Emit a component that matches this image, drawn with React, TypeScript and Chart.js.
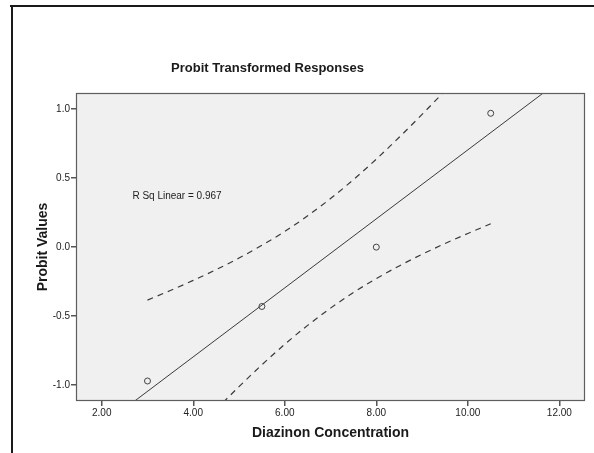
import React, { useEffect, useRef } from "react";
import { Chart, registerables } from "chart.js";

Chart.register(...registerables);

const chartTitle = "Probit Transformed Responses";
const xTitle = "Diazinon Concentration";
const yTitle = "Probit Values";
const rSqLabel = "R Sq Linear = 0.967";

const concentration = [3.0, 5.5, 8.0, 10.5];
const probit = [-0.97, -0.43, 0.0, 0.97];

const fitX = [1.44, 12.56];
const fitY = [-1.435, 1.345];

const bandX = [3.0, 3.5, 4.0, 4.5, 5.0, 5.5, 6.0, 6.5, 7.0, 7.5, 8.0, 8.5, 9.0, 9.5, 10.0, 10.5];
const upperBand = [-0.384, -0.314, -0.241, -0.163, -0.079, 0.013, 0.114, 0.227, 0.352, 0.489, 0.638, 0.796, 0.962, 1.134, 1.311, 1.491];
const lowerBand = [-1.706, -1.526, -1.349, -1.177, -1.011, -0.853, -0.704, -0.567, -0.442, -0.329, -0.228, -0.136, -0.052, 0.026, 0.099, 0.169];

const xTicks = [2, 4, 6, 8, 10, 12];
const yTicks = [-1.0, -0.5, 0.0, 0.5, 1.0];

const FONT = "'Liberation Sans', Arial, sans-serif";

const decorPlugin = {
  id: "decor",
  beforeDraw(chart: any) {
    const { ctx, chartArea } = chart;
    ctx.save();
    ctx.fillStyle = "#ffffff";
    ctx.fillRect(0, 0, chart.width, chart.height);
    ctx.fillStyle = "#f0f0f0";
    ctx.fillRect(chartArea.left, chartArea.top, chartArea.right - chartArea.left, chartArea.bottom - chartArea.top);
    // outer frame
    ctx.fillStyle = "#1a1a1a";
    ctx.fillRect(10, 5, chart.width - 10, 2);
    ctx.fillRect(11, 5, 2, chart.height - 5);
    // title
    ctx.fillStyle = "#1a1a1a";
    ctx.font = "bold 13px " + FONT;
    ctx.textAlign = "center";
    ctx.textBaseline = "middle";
    ctx.fillText(chartTitle, 267.5, 68);
    ctx.restore();
  },
  afterDraw(chart: any) {
    const { ctx, chartArea, scales } = chart;
    ctx.save();
    ctx.strokeStyle = "#5e5e5e";
    ctx.lineWidth = 1.2;
    ctx.strokeRect(chartArea.left + 0.5, chartArea.top + 0.5, chartArea.right - chartArea.left - 1, chartArea.bottom - chartArea.top - 1);
    ctx.fillStyle = "#222222";
    ctx.font = "10px " + FONT;
    ctx.textAlign = "left";
    ctx.textBaseline = "middle";
    const px = scales.x.getPixelForValue(2.67);
    const py = scales.y.getPixelForValue(0.37);
    ctx.fillText(rSqLabel, px, py);
    ctx.restore();
  },
};

export default function App() {
  const canvasRef = useRef<HTMLCanvasElement | null>(null);

  useEffect(() => {
    if (!canvasRef.current) return;
    const lineColor = "#3a3a3a";
    const chart = new Chart(canvasRef.current, {
      type: "scatter",
      data: {
        datasets: [
          {
            label: "Observed",
            data: concentration.map((x, i) => ({ x, y: probit[i] })),
            pointRadius: 3,
            pointBorderWidth: 1,
            pointBorderColor: "#444444",
            pointBackgroundColor: "rgba(0,0,0,0)",
            showLine: false,
          },
          {
            label: "Fit",
            data: fitX.map((x, i) => ({ x, y: fitY[i] })),
            showLine: true,
            pointRadius: 0,
            borderColor: lineColor,
            borderWidth: 1,
            fill: false,
          },
          {
            label: "Upper",
            data: bandX.map((x, i) => ({ x, y: upperBand[i] })),
            showLine: true,
            pointRadius: 0,
            borderColor: lineColor,
            borderWidth: 1.2,
            borderDash: [6, 5],
            cubicInterpolationMode: "monotone",
            fill: false,
          },
          {
            label: "Lower",
            data: bandX.map((x, i) => ({ x, y: lowerBand[i] })),
            showLine: true,
            pointRadius: 0,
            borderColor: lineColor,
            borderWidth: 1.2,
            borderDash: [6, 5],
            cubicInterpolationMode: "monotone",
            fill: false,
          },
        ],
      } as any,
      options: {
        responsive: false,
        animation: false,
        devicePixelRatio: 1,
        layout: { padding: { top: 93, right: 9, bottom: 0, left: 0 } },
        plugins: {
          legend: { display: false },
          tooltip: { enabled: false },
          title: { display: false },
        },
        scales: {
          x: {
            type: "linear",
            min: 1.438,
            max: 12.56,
            afterBuildTicks: (scale: any) => {
              scale.ticks = xTicks.map((v) => ({ value: v }));
            },
            afterFit: (scale: any) => {
              scale.height = 52;
            },
            grid: {
              drawOnChartArea: false,
              drawTicks: true,
              tickLength: 5,
              color: "#555555",
              lineWidth: 1.5,
            },
            border: { display: false },
            ticks: {
              padding: 1,
              color: "#222222",
              font: { family: FONT, size: 10 },
              maxRotation: 0,
              callback: (v: any) => Number(v).toFixed(2),
            },
            title: {
              display: true,
              text: xTitle,
              color: "#1a1a1a",
              font: { family: FONT, size: 14, weight: "bold" },
              padding: { top: 0, bottom: 11.8 },
            },
          },
          y: {
            type: "linear",
            min: -1.115,
            max: 1.117,
            afterBuildTicks: (scale: any) => {
              scale.ticks = yTicks.map((v) => ({ value: v }));
            },
            afterFit: (scale: any) => {
              scale.width = 76;
            },
            grid: {
              drawOnChartArea: false,
              drawTicks: true,
              tickLength: 5,
              color: "#555555",
              lineWidth: 1.5,
            },
            border: { display: false },
            ticks: {
              padding: 1,
              color: "#222222",
              font: { family: FONT, size: 10 },
              callback: (v: any) => Number(v).toFixed(1),
            },
            title: {
              display: true,
              text: yTitle,
              color: "#1a1a1a",
              font: { family: FONT, size: 14, weight: "bold" },
              padding: { top: 34.5, bottom: 0 },
            },
          },
        },
      } as any,
      plugins: [decorPlugin],
    });
    return () => chart.destroy();
  }, []);

  return (
    <div style={{ position: "absolute", left: 0, top: 0, width: 594, height: 453 }}>
      <canvas ref={canvasRef} width={594} height={453} style={{ width: 594, height: 453, display: "block" }} />
    </div>
  );
}
